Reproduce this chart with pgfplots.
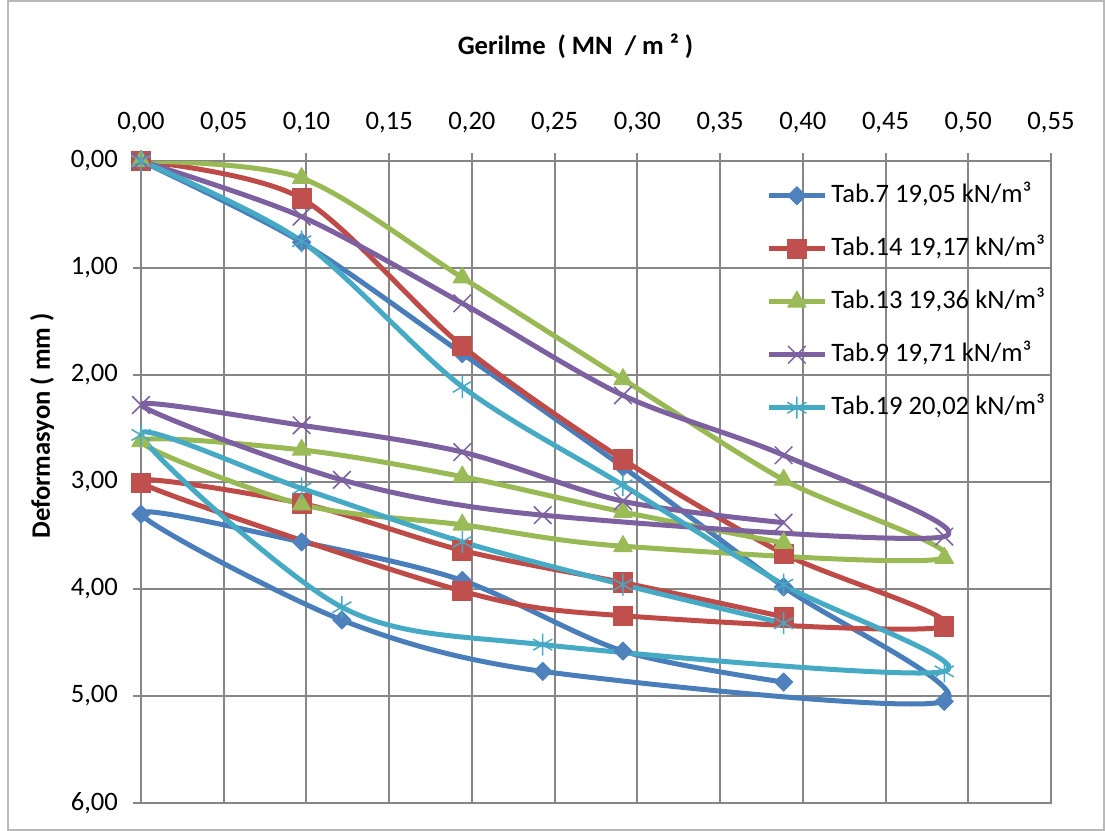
\documentclass[border=0pt]{standalone}
\usepackage{pgfplots}
\pgfplotsset{compat=1.18}
\usepackage{fontspec}
\setmainfont{Carlito}
\definecolor{c1}{HTML}{4A7EBB}
\definecolor{c1m}{HTML}{4F81BD}
\definecolor{c2}{HTML}{BE4B48}
\definecolor{c2m}{HTML}{C0504D}
\definecolor{c3}{HTML}{98B954}
\definecolor{c3m}{HTML}{9BBB59}
\definecolor{c4}{HTML}{7D60A0}
\definecolor{c5}{HTML}{46AAC5}
\definecolor{gridc}{HTML}{868686}
\newcommand{\fs}{\fontsize{13.3}{16}\selectfont}
\begin{document}
\begin{tikzpicture}
\useasboundingbox (-70.5pt,-14pt) rectangle (482pt,401.5pt);
\draw[gray!55, line width=0.75pt] (-66.5pt,-13.5pt) rectangle (481.5pt,401pt);
\begin{axis}[
  at={(0pt,0pt)}, anchor=south west, scale only axis,
  width=455pt, height=321pt,
  xmin=0, xmax=0.55, ymin=0, ymax=6, y dir=reverse,
  xtick={0,0.05,0.1,0.15,0.2,0.25,0.3,0.35,0.4,0.45,0.5,0.55},
  ytick={0,1,2,3,4,5,6},
  xtick pos=right, xticklabel pos=right, ytick pos=left, yticklabel pos=left,
  tick align=outside, major tick length=4pt,
  grid=major, grid style={gridc, line width=1pt},
  axis line style={gridc, line width=1pt},
  tick style={gridc, line width=1pt},
  ticklabel style={font=\fs, text=black},
  /pgf/number format/assume math mode=true,
  xticklabel style={yshift=6.5pt, /pgf/number format/.cd, fixed, fixed zerofill, precision=2, use comma},
  yticklabel style={xshift=-4pt, /pgf/number format/.cd, fixed, fixed zerofill, precision=2, use comma},
  legend style={at={(0.6868,0.966)}, anchor=north west, draw=none, fill=none, inner sep=0pt,
    font=\fs, row sep=14pt, column sep=2pt,
    nodes={inner sep=0pt, text height=9.5pt, text depth=3pt}},
  legend cell align=left,
  legend image code/.code={\draw[mark repeat=2, mark phase=2] plot coordinates {(0pt,0pt) (14pt,0pt) (28pt,0pt)};},
  every axis plot/.append style={smooth, tension=0.5, line width=2.5pt, line join=round},
]
\addplot[c1, mark=square*, mark size=3.2pt, mark options={rotate=45, fill=c1m, draw=c1m, line width=0.5pt}] coordinates {
(0,0) (0.0971,0.76) (0.1942,1.80) (0.2913,2.86) (0.3884,3.98) (0.4855,5.05)
(0.2428,4.77) (0.1214,4.29) (0,3.30)
(0.0971,3.56) (0.1942,3.92) (0.2913,4.58) (0.3884,4.87)};
\addlegendentry{Tab.7 19,05 kN/m³}
\addplot[c2, mark=square*, mark size=4.8pt, mark options={fill=c2m, draw=c2m, line width=0.5pt}] coordinates {
(0,0) (0.0971,0.35) (0.1942,1.73) (0.2913,2.79) (0.3884,3.67) (0.4855,4.35)
(0.2913,4.25) (0.1942,4.02) (0,3.01)
(0.0971,3.20) (0.1942,3.64) (0.2913,3.94) (0.3884,4.26)};
\addlegendentry{Tab.14 19,17 kN/m³}
\addplot[c3, mark=triangle*, mark size=5.3pt, mark options={fill=c3m, draw=c3m, line width=0.5pt}] coordinates {
(0,0) (0.0971,0.16) (0.1942,1.09) (0.2913,2.04) (0.3884,2.98) (0.4855,3.71)
(0.2913,3.60) (0.1942,3.40) (0.0971,3.21) (0,2.62)
(0.0971,2.70) (0.1942,2.95) (0.2913,3.28) (0.3884,3.57)};
\addlegendentry{Tab.13 19,36 kN/m³}
\addplot[c4, mark=x, mark size=6.2pt, mark options={draw=c4, line width=0.75pt}] coordinates {
(0,0) (0.0971,0.52) (0.1942,1.33) (0.2913,2.19) (0.3884,2.75) (0.4855,3.51)
(0.2428,3.31) (0.1214,2.98) (0,2.28)
(0.0971,2.47) (0.1942,2.72) (0.2913,3.18) (0.3884,3.38)};
\addlegendentry{Tab.9 19,71 kN/m³}
\addplot[c5, mark=asterisk, mark size=5.5pt, mark options={draw=c5, line width=0.75pt}] coordinates {
(0,0) (0.0971,0.75) (0.1942,2.11) (0.2913,3.03) (0.3884,3.96) (0.4855,4.77)
(0.2428,4.52) (0.1214,4.17) (0,2.56)
(0.0971,3.06) (0.1942,3.56) (0.2913,3.96) (0.3884,4.32)};
\addlegendentry{Tab.19 20,02 kN/m³}
\end{axis}
\node[font=\bfseries\fs] at (217.25pt,378.5pt) {Gerilme\ \ ( MN\ \ / m ² )};
\node[font=\bfseries\fs, rotate=90] at (-49.5pt,188.5pt) {Deformasyon ( mm )};
\end{tikzpicture}
\end{document}
